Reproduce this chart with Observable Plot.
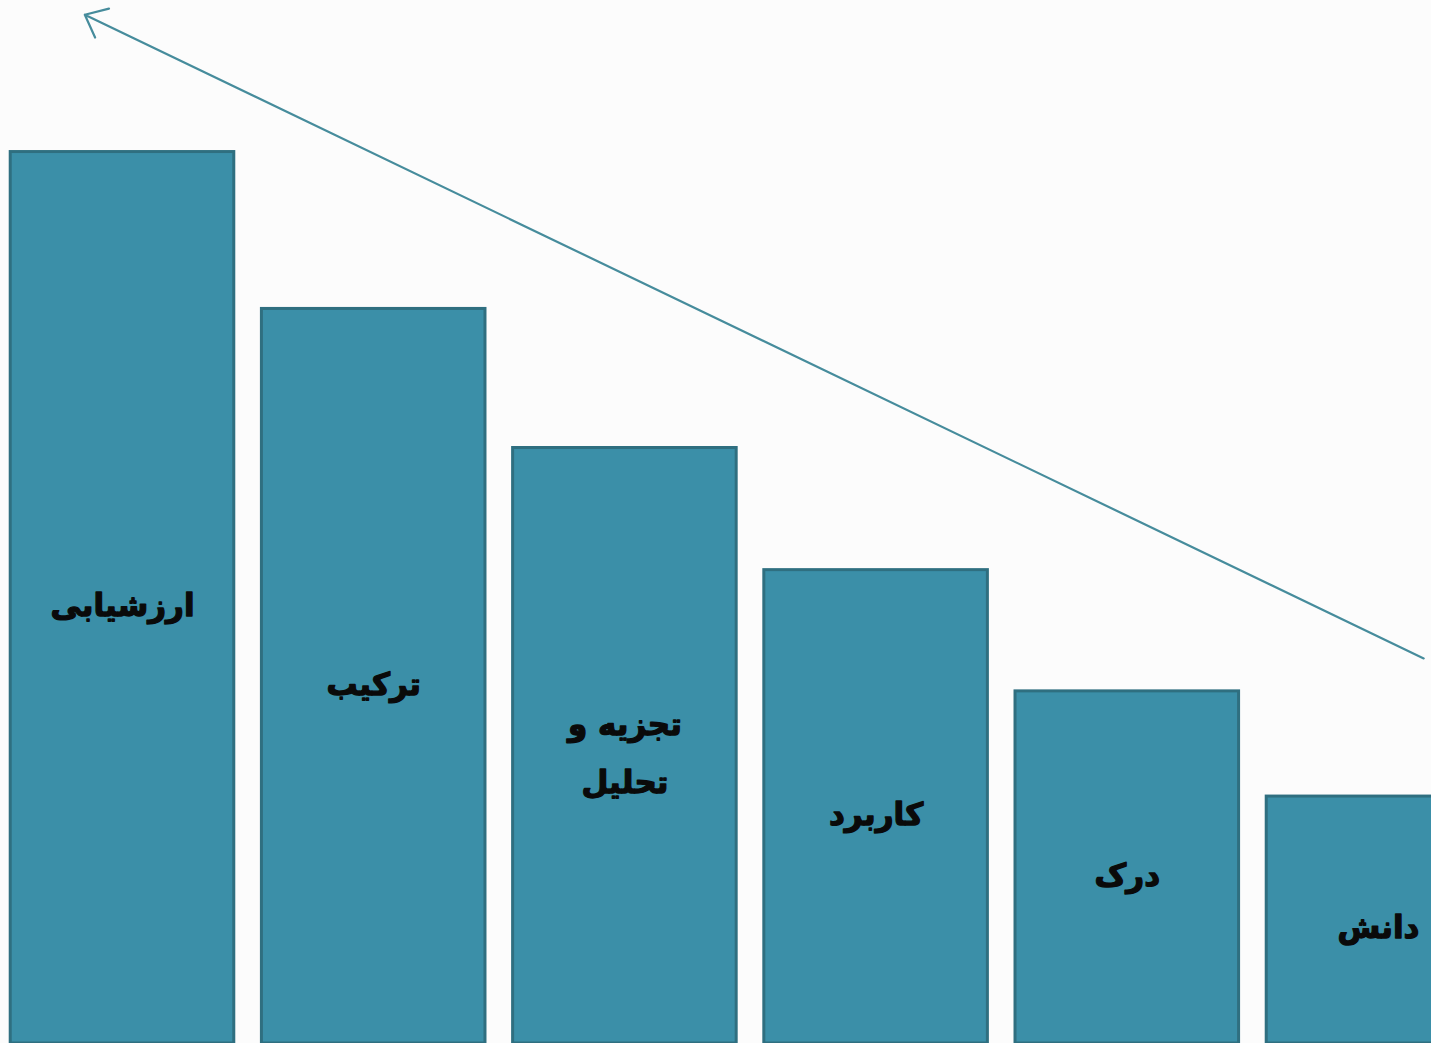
<!DOCTYPE html>
<html>
<head>
<meta charset="utf-8">
<script src="https://cdn.jsdelivr.net/npm/d3@7"></script>
<script src="https://cdn.jsdelivr.net/npm/@observablehq/plot@0.6"></script>
<style>
  html, body { margin: 0; padding: 0; background: #fcfcfc; overflow: hidden; }
  #chart svg { display: block; }
</style>
</head>
<body>
<div id="chart"></div>
<script>
// Levels of Bloom's taxonomy (from highest to lowest)
const categories = ["ارزشیابی", "ترکیب", "تجزیه و\nتحلیل", "کاربرد", "درک", "دانش"];
const levels = [100, 82.4, 66.8, 53.1, 39.5, 27.7];
// Trend arrow: from the lowest level up to the highest (index position, level)
const arrowFrom = [5.18, 43.2];
const arrowTo = [-0.15, 115.4];

const bars = categories.map((c, i) => ({ i, label: c, value: levels[i] }));
const trend = [{ x1: arrowFrom[0], y1: arrowFrom[1], x2: arrowTo[0], y2: arrowTo[1] }];

const chart = Plot.plot({
  width: 1431,
  height: 1043,
  marginTop: 0,
  marginBottom: 0,
  marginLeft: 0,
  marginRight: 0,
  style: { background: "#fcfcfc", overflow: "hidden" },
  x: { type: "linear", domain: [0, 5], range: [122, 1378], axis: null },
  y: { domain: [0, 117], axis: null },
  marks: [
    Plot.rectY(bars, {
      x1: d => d.i - 0.445,
      x2: d => d.i + 0.445,
      y1: 0,
      y2: "value",
      fill: "#3b8fa8",
      stroke: "#2f6f80",
      strokeWidth: 3
    }),
    Plot.text(bars, {
      x: "i",
      y: d => d.value / 2,
      text: "label",
      fontFamily: "DejaVu Sans",
      fontWeight: "bold",
      fontSize: 31,
      lineHeight: 1.85,
      fill: "#0a0a0a",
      stroke: "#0a0a0a",
      strokeWidth: 1.3
    }),
    Plot.arrow(trend, {
      x1: "x1", y1: "y1", x2: "x2", y2: "y2",
      stroke: "#468c9c",
      strokeWidth: 2.2,
      headLength: 17,
      headAngle: 80
    })
  ]
});
document.getElementById("chart").appendChild(chart);
</script>
</body>
</html>
